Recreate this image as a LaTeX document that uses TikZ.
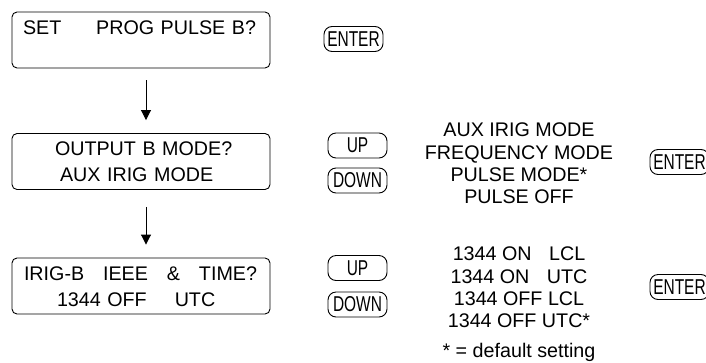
\documentclass[tikz,border=0pt]{standalone}
\usepackage{fontspec}
\setmainfont{Liberation Sans}
\newfontfamily\keyfont[FakeStretch=0.72]{Liberation Sans}
\usepackage{tikz}
\usetikzlibrary{arrows.meta, positioning}
\newcommand{\lcdstrut}{\rule[-4pt]{0pt}{22pt}}

\begin{document}
\begin{tikzpicture}[
    x=1pt, y=-1pt,
    display/.style={
        draw, line width=0.9pt, rounded corners=5pt,
        minimum width=258pt, minimum height=56pt,
        text width=234pt, inner xsep=12pt, inner ysep=0pt,
        align=left, font=\fontsize{19.7}{26}\selectfont
    },
    key/.style={
        draw, line width=0.9pt, rounded corners=8pt,
        minimum width=59pt, minimum height=25pt, inner sep=1pt,
        font=\keyfont\fontsize{21.5}{24}\selectfont
    },
    liste/.style={align=center, inner sep=0pt, font=\fontsize{19.7}{22.4}\selectfont},
    fleche/.style={-{Triangle[length=10pt,width=10pt]}, line width=0.9pt, shorten >=13pt}
]
\useasboundingbox (0,0) rectangle (706,362);

% displays
\node[display] (A) at (141,40)
    {\hspace*{-1pt}SET\hfill PROG PULSE B?\hspace*{2pt}\lcdstrut\\\lcdstrut};
\node[display] (B) at (141,161.5)
    {\hspace*{31pt}OUTPUT B MODE?\lcdstrut\\\hspace*{36pt}AUX IRIG MODE\lcdstrut};
\node[display] (C) at (141,286)
    {IRIG-B\hfill IEEE\hfill\&\hfill TIME?\hspace*{1pt}\lcdstrut\\\hspace*{33pt}1344 OFF\hspace{28pt}UTC\lcdstrut};

\draw[fleche, shorten <=12pt] ([xshift=5pt]A.south) -- ([xshift=5pt]B.north);
\draw[fleche, shorten <=17pt] ([xshift=5pt]B.south) -- ([xshift=5pt]C.north);

% keys
\node[key] (E1) at (353.5,39)  {ENTER};
\node[key] (U2) at (357.5,145.5) {UP};
\node[key] (D2) at (357.5,180.5) {DOWN};
\node[key] (E2) at (679.5,162) {ENTER};
\node[key] (U3) at (357.5,268) {UP};
\node[key] (D3) at (357.5,304.5) {DOWN};
\node[key] (E3) at (679.5,287) {ENTER};

% choices
\node[liste] (L2) at (519,163.5)
    {AUX IRIG MODE\\FREQUENCY MODE\\PULSE MODE*\\PULSE OFF};
\node[liste] (L3) at (519,287.5)
    {1344 ON\phantom{F} LCL\\1344 ON\phantom{F} UTC\\1344 OFF LCL\\1344 OFF UTC*};
\node[anchor=base, inner sep=0pt, font=\fontsize{19.7}{22.4}\selectfont] (N) at (519,357)
    {* = default setting};
\end{tikzpicture}
\end{document}
